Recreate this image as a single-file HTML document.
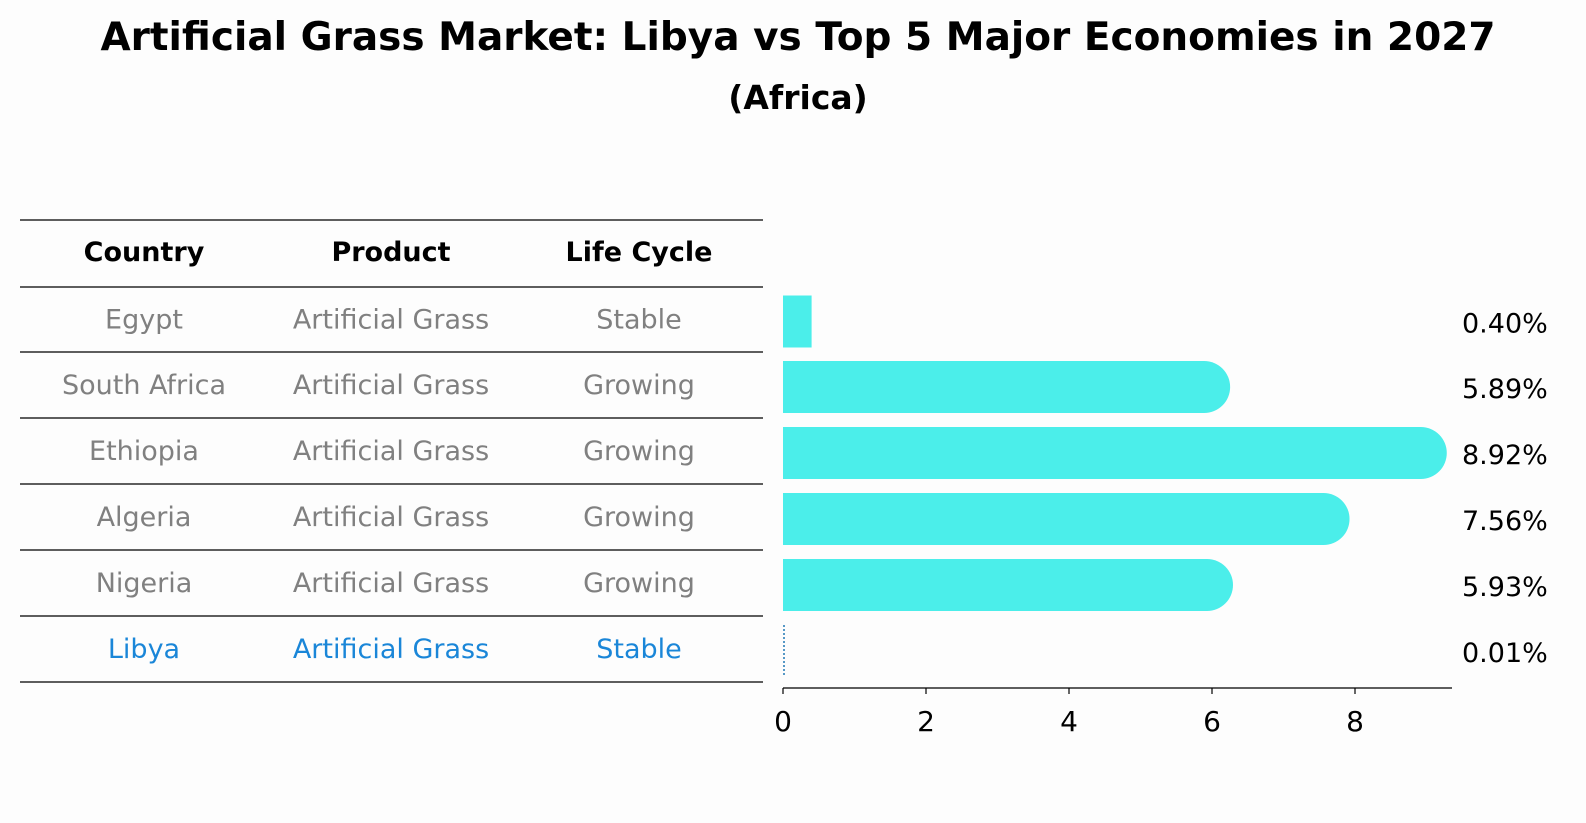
<!DOCTYPE html>
<html><head><meta charset="utf-8"><style>
html,body{margin:0;padding:0;background:#fdfdfd;}
svg{display:block;font-family:"DejaVu Sans","Liberation Sans",sans-serif;}
</style></head><body>
<svg id="chart" width="1586" height="823" viewBox="0 0 1586 823">
<rect width="1586" height="823" fill="#fdfdfd"/>
<text x="798" y="50" text-anchor="middle" font-size="39" font-weight="bold">Artificial Grass Market: Libya vs Top 5 Major Economies in 2027</text>
<text x="798" y="109" text-anchor="middle" font-size="33" font-weight="bold">(Africa)</text>
<g id="table"></g>
<g id="bars"></g>
</svg>
<script>
const countries = ["Egypt","South Africa","Ethiopia","Algeria","Nigeria","Libya"];
const products = ["Artificial Grass","Artificial Grass","Artificial Grass","Artificial Grass","Artificial Grass","Artificial Grass"];
const lifeCycles = ["Stable","Growing","Growing","Growing","Growing","Stable"];
const values = [0.40,5.89,8.92,7.56,5.93,0.01];
const valueLabels = ["0.40%","5.89%","8.92%","7.56%","5.93%","0.01%"];
const xTicks = [0,2,4,6,8];

const NS="http://www.w3.org/2000/svg";
function mk(tag,attrs,parent){const e=document.createElementNS(NS,tag);for(const k in attrs)e.setAttribute(k,attrs[k]);parent.appendChild(e);return e;}
const table=document.getElementById('table');
const bars=document.getElementById('bars');
const lineYs=[220,287,352,418,484,550,616,682];
lineYs.forEach((y,i)=>{
  const l=mk('line',{x1:20,x2:763,y1:y,y2:y,stroke:'#000','stroke-width':1.2},table);
  
  
});
const colX=[144,391,639];
["Country","Product","Life Cycle"].forEach((h,j)=>{
  const t=mk('text',{x:colX[j],y:261,'text-anchor':'middle','font-size':27,'font-weight':'bold'},table);
  t.textContent=h;
  
  
});
const x0=783, pxPer=71.5;
const xs=v=>x0+v*pxPer;
const ctr=i=>(lineYs[i+1]+lineYs[i+2])/2+2;
countries.forEach((c,i)=>{
  const col=i===countries.length-1?'#1a86d8':'#808080';
  [c,products[i],lifeCycles[i]].forEach((txt,j)=>{
    const t=mk('text',{x:colX[j],y:ctr(i)+7,'text-anchor':'middle','font-size':27,fill:col},table);
    t.textContent=txt;
    
    
  });
  const cy=ctr(i), h=52, r=26, w=xs(values[i])-x0;
  let b;
  if(values[i]<0.05){
    b=mk('line',{x1:x0+1,x2:x0+1,y1:cy-r,y2:cy+r,stroke:'#1f77b4','stroke-width':1.5,'stroke-dasharray':'2,2'},bars);
  } else if(w<r*1.5){
    b=mk('rect',{x:x0,y:cy-r,width:w,height:h,fill:'#4beeea'},bars);
  } else {
    b=mk('path',{d:`M${x0},${cy-r} H${x0+w} A${r},${r} 0 0 1 ${x0+w},${cy+r} H${x0} Z`,fill:'#4beeea'},bars);
  }
  
  
  const vt=mk('text',{x:1462,y:cy+11,'font-size':27,fill:'#000'},bars);
  vt.textContent=valueLabels[i];
  
  
});
const ax=mk('line',{x1:x0,x2:1452,y1:688,y2:688,stroke:'#000','stroke-width':1.2},bars);


xTicks.forEach(v=>{
  const tk=mk('line',{x1:xs(v),x2:xs(v),y1:688,y2:694,stroke:'#000','stroke-width':1.2},bars);
  
  
  const tl=mk('text',{x:xs(v),y:731,'text-anchor':'middle','font-size':28},bars);
  tl.textContent=v;
  
  
});
</script>
</body></html>
